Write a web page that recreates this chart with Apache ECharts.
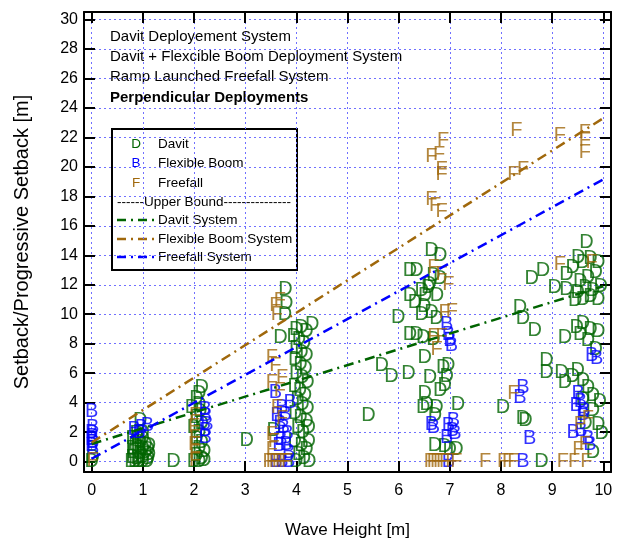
<!DOCTYPE html>
<html>
<head>
<meta charset="utf-8">
<script src="https://cdn.jsdelivr.net/npm/echarts@6/dist/echarts.min.js"></script>
<style>html,body{margin:0;padding:0;background:#fff;}#c{width:617px;height:544px;}</style>
</head>
<body>
<div id="c"></div>
<script>
// ---- data (wave height [m], setback [m]) ----
const davit = [
  [0.0,0.0],[0.02,0.3],
  [0.78,0.0],[0.85,0.0],[0.92,0.0],[1.0,0.0],[1.08,0.0],[0.8,0.3],[0.9,0.25],[1.0,0.3],[1.1,0.2],
  [0.82,0.6],[0.95,0.55],[1.05,0.6],[1.12,0.5],[0.8,0.9],[0.9,0.95],[1.0,0.9],[1.1,0.85],
  [0.85,1.2],[0.95,1.3],[1.05,1.2],[1.12,1.1],[0.8,1.55],[0.9,1.6],[1.0,1.55],[0.88,1.9],[1.0,1.95],[0.95,2.8],
  [1.6,0.0],
  [2.15,5.0],[2.1,4.6],[2.05,4.3],[1.96,3.7],[2.1,3.9],[2.12,3.4],[2.05,3.0],[2.15,2.6],[2.0,2.3],[2.1,2.0],
  [2.05,1.6],[2.15,1.3],[2.1,0.9],[2.2,0.7],[2.05,0.4],[2.15,0.2],[2.1,0.0],[2.2,0.1],[2.0,0.0],
  [3.03,1.45],
  [3.79,11.7],[3.8,10.7],[3.78,10.0],[3.69,8.4],[4.31,9.3],[3.56,2.1],
  [4.0,9.0],[4.1,9.1],[4.2,8.8],[3.95,8.5],[4.05,8.3],[4.15,8.0],[4.0,7.7],[4.1,7.4],[4.2,7.2],[3.98,6.9],
  [4.08,6.6],[4.18,6.3],[4.0,6.0],[4.12,5.7],[4.22,5.4],[3.97,5.1],[4.07,4.8],[4.17,4.5],[4.02,4.2],[4.12,3.9],
  [4.22,3.6],[3.98,3.3],[4.08,3.0],[4.2,2.7],[4.03,2.3],[4.13,2.0],[4.24,2.3],[3.97,1.4],[4.1,1.1],[4.24,1.4],
  [4.2,0.8],[4.05,0.5],[4.15,0.2],[4.25,0.0],[4.0,0.0],
  [5.41,3.1],
  [6.64,14.3],[6.81,13.97],[6.22,12.95],[6.35,12.95],[6.68,12.6],[6.81,12.4],[6.6,12.0],[6.22,11.25],[6.32,10.8],
  [6.45,11.6],[6.58,11.8],[6.52,11.3],[6.75,11.25],[6.5,10.5],[5.99,9.8],[6.45,10.0],[6.64,10.1],[6.74,9.7],
  [6.22,8.65],[6.35,8.65],[6.48,8.4],[6.68,8.3],[6.51,7.1],[5.67,6.5],[5.86,5.8],[6.19,5.95],[6.87,6.4],
  [6.97,6.5],[6.61,5.7],[6.94,5.8],[6.81,4.8],[6.9,5.15],[6.51,4.6],[6.55,3.9],[6.48,3.7],[6.74,3.7],
  [6.71,3.1],[7.16,3.9],[6.71,1.1],[6.9,1.0],[7.0,0.85],[7.13,0.85],
  [8.6,12.4],[8.82,12.95],[8.37,10.45],[8.43,9.7],[8.66,8.9],[8.89,6.85],[8.89,6.05],[8.04,3.7],
  [8.43,2.9],[8.48,2.8],[8.79,0.0],
  [9.67,14.87],[9.28,12.7],[9.05,11.8],[9.28,11.7],[9.51,13.85],[9.4,13.2],[9.6,13.5],[9.75,13.8],[9.9,13.5],
  [9.85,12.8],[9.7,12.5],[9.55,12.2],[9.65,11.8],[9.8,11.6],[9.95,11.9],[9.5,11.5],[9.6,11.0],[9.75,11.2],
  [9.9,11.0],[9.45,10.9],[9.25,8.4],[9.48,9.1],[9.6,9.4],[9.75,9.0],[9.9,8.8],[9.55,8.6],[9.7,8.2],[9.85,7.6],
  [9.18,6.05],[9.25,5.4],[9.4,5.8],[9.5,6.2],[9.6,5.5],[9.7,5.0],[9.8,4.5],[9.93,4.1],[9.6,4.2],[9.8,3.5],
  [9.65,2.6],[9.97,1.9],[9.8,0.6],[9.9,2.5]
];
const boom = [
  [0.0,3.4],[0.02,2.3],[0.0,2.0],[0.02,1.7],[0.0,1.5],[0.02,1.3],[0.0,1.1],[0.02,0.9],
  [0.83,2.2],[0.97,2.3],[1.09,2.45],[0.93,1.95],
  [2.22,3.57],[2.22,3.12],[2.25,2.55],[2.22,2.1],[2.22,1.65],
  [3.59,4.7],[3.88,4.0],[3.72,3.7],[3.62,3.1],[3.78,3.2],[3.68,2.6],[3.75,2.3],[3.82,1.9],[3.7,1.5],
  [3.8,1.2],[3.66,1.1],[3.85,0.6],[3.6,0.0],[3.72,0.0],[3.85,0.0],
  [6.94,9.3],[6.97,8.65],[7.03,7.9],[7.0,8.2],[6.64,2.55],[6.68,2.3],[6.97,2.45],[7.07,2.8],[7.1,1.9],
  [6.94,1.65],[7.05,2.1],[6.97,0.0],
  [8.43,5.05],[8.37,4.35],[8.56,1.55],[8.43,0.0],
  [9.77,7.2],[9.87,7.0],[9.51,4.6],[9.47,3.8],[9.6,3.2],[9.41,2.0],[9.56,2.1],[9.74,1.2],[9.7,1.6],[9.55,4.1],[9.62,3.5]
];
const freefall = [
  [0.02,0.1],
  [2.02,3.1],[2.0,2.4],[2.02,1.65],[2.0,1.2],[2.02,0.6],[2.02,0.1],
  [3.59,10.6],[3.68,10.9],[3.62,10.0],[3.52,7.07],[3.59,6.5],[3.72,5.7],[3.52,5.4],[3.68,4.8],[3.62,3.7],
  [3.72,2.9],[3.52,1.87],[3.56,1.4],[3.52,0.85],
  [3.46,0.0],[3.52,0.0],[3.58,0.0],[3.64,0.0],[3.7,0.0],[3.76,0.0],[3.82,0.0],
  [6.87,21.8],[6.64,20.7],[6.79,20.85],[6.84,19.8],[6.84,19.5],[6.64,17.8],[6.71,17.35],[6.84,17.0],
  [6.68,13.2],[6.84,12.7],[6.97,12.0],[6.9,10.1],[7.04,10.2],[6.68,8.5],[6.84,8.5],[6.74,7.6],
  [6.61,0.0],[6.67,0.0],[6.73,0.0],[6.79,0.0],[6.85,0.0],[6.91,0.0],[7.03,0.0],[7.13,0.0],
  [7.69,0.0],[8.04,0.0],[8.14,0.0],[8.24,0.0],[8.24,4.6],[8.3,22.45],[8.24,19.5],[8.43,19.85],
  [9.15,22.1],[9.64,22.3],[9.64,21.8],[9.64,20.95],[9.15,13.4],[9.77,13.5],
  [9.54,2.55],[9.7,2.9],[9.64,1.2],[9.51,0.85],[9.21,0.0],[9.43,0.0],[9.67,0.0]
];
const boundX = [0, 10];
const davitBound = [1.2, 11.9];
const boomBound = [1.3, 23.3];
const freefallBound = [0.2, 19.15];
const titleLines = ['Davit Deployement System','Davit + Flexcible Boom Deployment System','Ramp Launched Freefall System','Perpendicular Deployments'];
const legendMarks = ['D','B','F'];
const legendNames = ['Davit','Flexible Boom','Freefall'];
const boundNames = ['Davit System','Flexible Boom System','Freefall System'];

const GREEN = '#006400', BLUE = '#0000ff', BROWN = '#a0680c';
const FONT = 'Liberation Sans, Arial, sans-serif';
const DASH = [10, 5, 2, 5];

function letterSeries(name, data, letter, color) {
  return {
    type: 'scatter', name, data, symbol: 'circle', symbolSize: 1,
    itemStyle: { color: 'rgba(0,0,0,0)' },
    label: { show: true, position: 'inside', formatter: letter, color, fontSize: 20, fontFamily: FONT },
    emphasis: { disabled: true }, silent: true
  };
}
function boundSeries(name, ys, color) {
  return {
    type: 'line', name, data: boundX.map((x, i) => [x, ys[i]]), symbol: 'none',
    lineStyle: { color, width: 2.5, type: DASH }, silent: true
  };
}
const gridLine = { show: true, lineStyle: { color: '#7070ff', width: 1, type: [2, 3] } };
const lineAx = { show: true, onZero: false, lineStyle: { color: '#000', width: 2 } };
const tickAx = { show: true, inside: true, length: 11, lineStyle: { color: '#000', width: 2 } };
const intLabel = v => (Math.abs(v - Math.round(v)) < 1e-6 ? String(Math.round(v)) : '');

const chart = echarts.init(document.getElementById('c'), null, { renderer: 'canvas' });
const legendTop = 129, legendLeft = 112;
const graphics = [];
titleLines.forEach((t, i) => {
  graphics.push({ type: 'text', left: 110, top: [29, 49, 69, 90][i],
    style: { text: t, font: (i === 3 ? 'bold ' : '') + '15px ' + FONT, fill: '#000' } });
});
graphics.push({ type: 'rect', shape: { x: legendLeft, y: legendTop, width: 185, height: 141 },
  style: { fill: '#fff', stroke: '#000', lineWidth: 2 } });
const markColors = [GREEN, BLUE, BROWN];
const boundColors = [GREEN, BROWN, BLUE];
legendMarks.forEach((m, i) => {
  const cy = [144, 163, 183][i];
  graphics.push({ type: 'text', x: 136, y: cy, style: { text: m, font: '13.5px ' + FONT, fill: markColors[i], align: 'center', verticalAlign: 'middle' } });
  graphics.push({ type: 'text', x: 158, y: cy, style: { text: legendNames[i], font: '13.5px ' + FONT, fill: '#000', verticalAlign: 'middle' } });
});
graphics.push({ type: 'text', x: 117, y: 202, style: { text: '------Upper Bound---------------', font: '13.5px ' + FONT, fill: '#000', verticalAlign: 'middle' } });
boundNames.forEach((n, i) => {
  const cy = [220, 239, 257][i];
  graphics.push({ type: 'line', shape: { x1: 117, y1: cy, x2: 154, y2: cy }, style: { stroke: boundColors[i], lineWidth: 2.5, lineDash: [9, 5, 2, 5] } });
  graphics.push({ type: 'text', x: 158, y: cy, style: { text: n, font: '13.5px ' + FONT, fill: '#000', verticalAlign: 'middle' } });
});

chart.setOption({
  animation: false,
  backgroundColor: '#fff',
  grid: { left: 84, right: 6, top: 12, bottom: 70, containLabel: false },
  xAxis: [
    { type: 'value', min: -0.15, max: 10.15, splitNumber: 10, position: 'bottom',
      axisLine: lineAx, axisTick: tickAx, splitLine: gridLine,
      axisLabel: { formatter: intLabel, color: '#000', fontSize: 16, fontFamily: FONT, margin: 11, showMinLabel: false, showMaxLabel: false },
      name: 'Wave Height [m]', nameLocation: 'middle', nameGap: 50,
      nameTextStyle: { color: '#000', fontSize: 17, fontFamily: FONT } },
    { type: 'value', min: -0.15, max: 10.15, splitNumber: 10, position: 'top',
      axisLine: lineAx, axisTick: tickAx, splitLine: { show: false }, axisLabel: { show: false } }
  ],
  yAxis: [
    { type: 'value', min: -0.7, max: 30.5, splitNumber: 15, position: 'left',
      axisLine: lineAx, axisTick: tickAx, splitLine: gridLine,
      axisLabel: { formatter: intLabel, color: '#000', fontSize: 16, fontFamily: FONT, margin: 6, showMinLabel: false, showMaxLabel: false },
      name: 'Setback/Progressive Setback [m]', nameLocation: 'middle', nameGap: 52,
      nameTextStyle: { color: '#000', fontSize: 20, fontFamily: FONT } },
    { type: 'value', min: -0.7, max: 30.5, splitNumber: 15, position: 'right',
      axisLine: lineAx, axisTick: tickAx, splitLine: { show: false }, axisLabel: { show: false } }
  ],
  series: [
    letterSeries('Davit', davit, 'D', GREEN),
    letterSeries('Flexible Boom', boom, 'B', BLUE),
    letterSeries('Freefall', freefall, 'F', BROWN),
    boundSeries('Davit System', davitBound, GREEN),
    boundSeries('Flexible Boom System', boomBound, BROWN),
    boundSeries('Freefall System', freefallBound, BLUE)
  ],
  graphic: graphics
});
</script>
</body>
</html>
